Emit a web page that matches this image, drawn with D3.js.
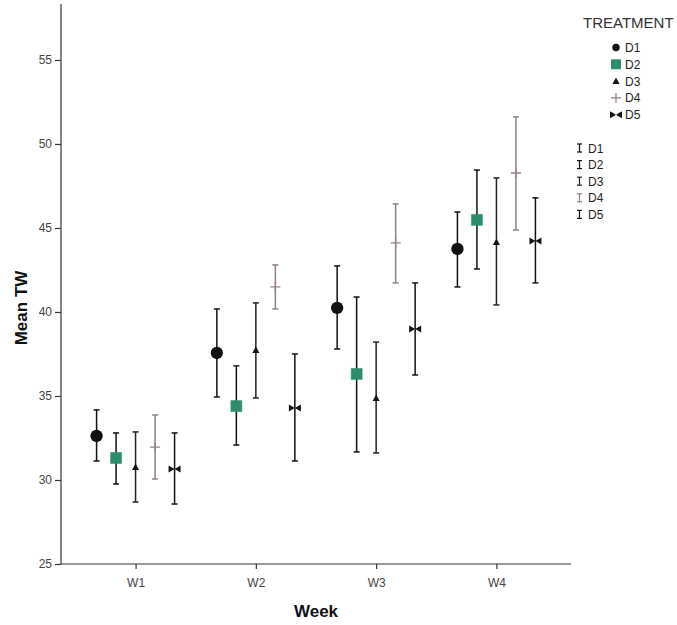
<!DOCTYPE html>
<html>
<head>
<meta charset="utf-8">
<script src="https://cdn.jsdelivr.net/npm/d3@7"></script>
<style>
  html, body { margin: 0; padding: 0; background: #fff; }
  svg { display: block; font-family: "Liberation Sans", Arial, sans-serif; }
</style>
</head>
<body>
<svg id="chart" width="677" height="625"></svg>
<script>
// Weeks on the x axis and the five treatment groups
const weeks = ["W1", "W2", "W3", "W4"];
const treatments = ["D1", "D2", "D3", "D4", "D5"];

// Mean TW per treatment, one value per week
const meanD1 = [32.62, 37.56, 40.24, 43.75];
const meanD2 = [31.31, 34.40, 36.31, 45.48];
const meanD3 = [30.77, 37.74, 34.88, 44.17];
const meanD4 = [31.96, 41.49, 44.11, 48.27];
const meanD5 = [30.65, 34.29, 38.99, 44.23];

// Error bar lower limits
const lowD1 = [31.13, 34.94, 37.80, 41.49];
const lowD2 = [29.76, 32.08, 31.67, 42.56];
const lowD3 = [28.69, 34.88, 31.61, 40.42];
const lowD4 = [30.06, 40.18, 41.73, 44.88];
const lowD5 = [28.57, 31.13, 36.25, 41.73];

// Error bar upper limits
const highD1 = [34.17, 40.18, 42.74, 45.95];
const highD2 = [32.80, 36.79, 40.89, 48.45];
const highD3 = [32.86, 40.54, 38.21, 47.98];
const highD4 = [33.87, 42.80, 46.43, 51.61];
const highD5 = [32.80, 37.50, 41.73, 46.79];

// Y axis ticks
const yTicks = [25, 30, 35, 40, 45, 50, 55];

const means = [meanD1, meanD2, meanD3, meanD4, meanD5];
const lows = [lowD1, lowD2, lowD3, lowD4, lowD5];
const highs = [highD1, highD2, highD3, highD4, highD5];

const rows = [];
treatments.forEach((t, ti) => {
  weeks.forEach((w, wi) => {
    rows.push({ t, w, mean: means[ti][wi], low: lows[ti][wi], high: highs[ti][wi] });
  });
});

const svg = d3.select("#chart");
const plotLeft = 61, plotRight = 571, plotTop = 4, plotBottom = 564;

const x = d3.scalePoint().domain(weeks).range([plotLeft, plotRight]).padding(0.62);
const dodge = d3.scalePoint().domain(treatments).range([-39, 39]);
const y = d3.scaleLinear().domain([25, 58.33]).range([plotBottom, plotTop]);

const markerFill = { D1: "#111", D2: "#2b8c6e", D3: "#111", D4: "none", D5: "#111" };
const barColor = { D1: "#111", D2: "#111", D3: "#222", D4: "#8f8085", D5: "#111" };

// Marker shapes drawn around (0,0)
function markerPath(t) {
  switch (t) {
    case "D1": return d3.symbol(d3.symbolCircle, 120)();
    case "D2": return "M-5.5,-5.5H5.5V5.5H-5.5Z";
    case "D3": return "M0,-3.5L3.5,3L-3.5,3Z";
    case "D4": return "M-5,0H5M0,-5V5";
    case "D5": return "M-6,-3.5L0,0L-6,3.5ZM6,-3.5L0,0L6,3.5Z";
  }
}

// Axes
const yAxis = svg.append("g").attr("transform", `translate(${plotLeft},0)`)
  .call(d3.axisLeft(y).tickValues(yTicks).tickSize(6).tickPadding(3).tickSizeOuter(0));
const xAxis = svg.append("g").attr("transform", `translate(0,${plotBottom})`)
  .call(d3.axisBottom(x).tickSize(5).tickPadding(9).tickSizeOuter(0));

[yAxis, xAxis].forEach(g => {
  g.select(".domain").attr("stroke", "#333").attr("stroke-width", 1.2);
  g.selectAll(".tick line").attr("stroke", "#333").attr("stroke-width", 1.2);
  g.selectAll(".tick text").attr("fill", "#444").attr("font-size", 12)
    .attr("font-family", "Liberation Sans, Arial, sans-serif");
});
// extend the axis lines across the full plot frame
yAxis.select(".domain").attr("d", `M0,${y(25)}V${plotTop}`);
xAxis.select(".domain").attr("d", `M${plotLeft},0H${plotRight}`);

// Error bars
const bars = svg.append("g").selectAll("g").data(rows).join("g")
  .attr("transform", d => `translate(${x(d.w) + dodge(d.t)},0)`)
  .attr("stroke", d => barColor[d.t])
  .attr("stroke-width", 1.5)
  .attr("fill", "none");
bars.append("line").attr("y1", d => y(d.low)).attr("y2", d => y(d.high));
bars.append("line").attr("x1", -3).attr("x2", 3).attr("y1", d => y(d.low)).attr("y2", d => y(d.low));
bars.append("line").attr("x1", -3).attr("x2", 3).attr("y1", d => y(d.high)).attr("y2", d => y(d.high));

// Mean markers
svg.append("g").selectAll("path").data(rows).join("path")
  .attr("transform", d => `translate(${x(d.w) + dodge(d.t)},${y(d.mean)})`)
  .attr("d", d => markerPath(d.t))
  .attr("fill", d => markerFill[d.t])
  .attr("stroke", d => d.t === "D4" ? "#8f8085" : (d.t === "D2" ? "#2b8c6e" : "none"))
  .attr("stroke-width", d => d.t === "D4" ? 1.3 : 0.5);

// Axis titles
svg.append("text")
  .attr("x", (plotLeft + plotRight) / 2).attr("y", 617)
  .attr("text-anchor", "middle").attr("font-weight", "bold").attr("font-size", 17)
  .attr("fill", "#111").text("Week");
svg.append("text")
  .attr("transform", `translate(27,${(plotTop + plotBottom) / 2 + 24}) rotate(-90)`)
  .attr("text-anchor", "middle").attr("font-weight", "bold").attr("font-size", 17)
  .attr("fill", "#111").text("Mean TW");

// Legend: markers
const legend = svg.append("g");
legend.append("text").attr("x", 583).attr("y", 28).attr("font-size", 15)
  .attr("fill", "#333").text("TREATMENT");
treatments.forEach((t, i) => {
  const cy = 47.5 + i * 16.8;
  legend.append("path")
    .attr("transform", `translate(616,${cy})` + (t === "D1" ? " scale(0.6)" : (t === "D2" ? " scale(0.9)" : "")))
    .attr("d", markerPath(t))
    .attr("fill", markerFill[t])
    .attr("stroke", t === "D4" ? "#8f8085" : "none")
    .attr("stroke-width", 1.2);
  legend.append("text").attr("x", 625).attr("y", cy + 4.5).attr("font-size", 12)
    .attr("fill", "#222").text(t);
});

// Legend: error bars
treatments.forEach((t, i) => {
  const cy = 148 + i * 16.6;
  const g = legend.append("g").attr("stroke", barColor[t]).attr("stroke-width", 1.2);
  g.append("line").attr("x1", 579.5).attr("x2", 579.5).attr("y1", cy - 4).attr("y2", cy + 4);
  g.append("line").attr("x1", 577).attr("x2", 582).attr("y1", cy - 4).attr("y2", cy - 4);
  g.append("line").attr("x1", 577).attr("x2", 582).attr("y1", cy + 4).attr("y2", cy + 4);
  legend.append("text").attr("x", 588).attr("y", cy + 4.5).attr("font-size", 12)
    .attr("fill", "#222").text(t);
});
</script>
</body>
</html>
